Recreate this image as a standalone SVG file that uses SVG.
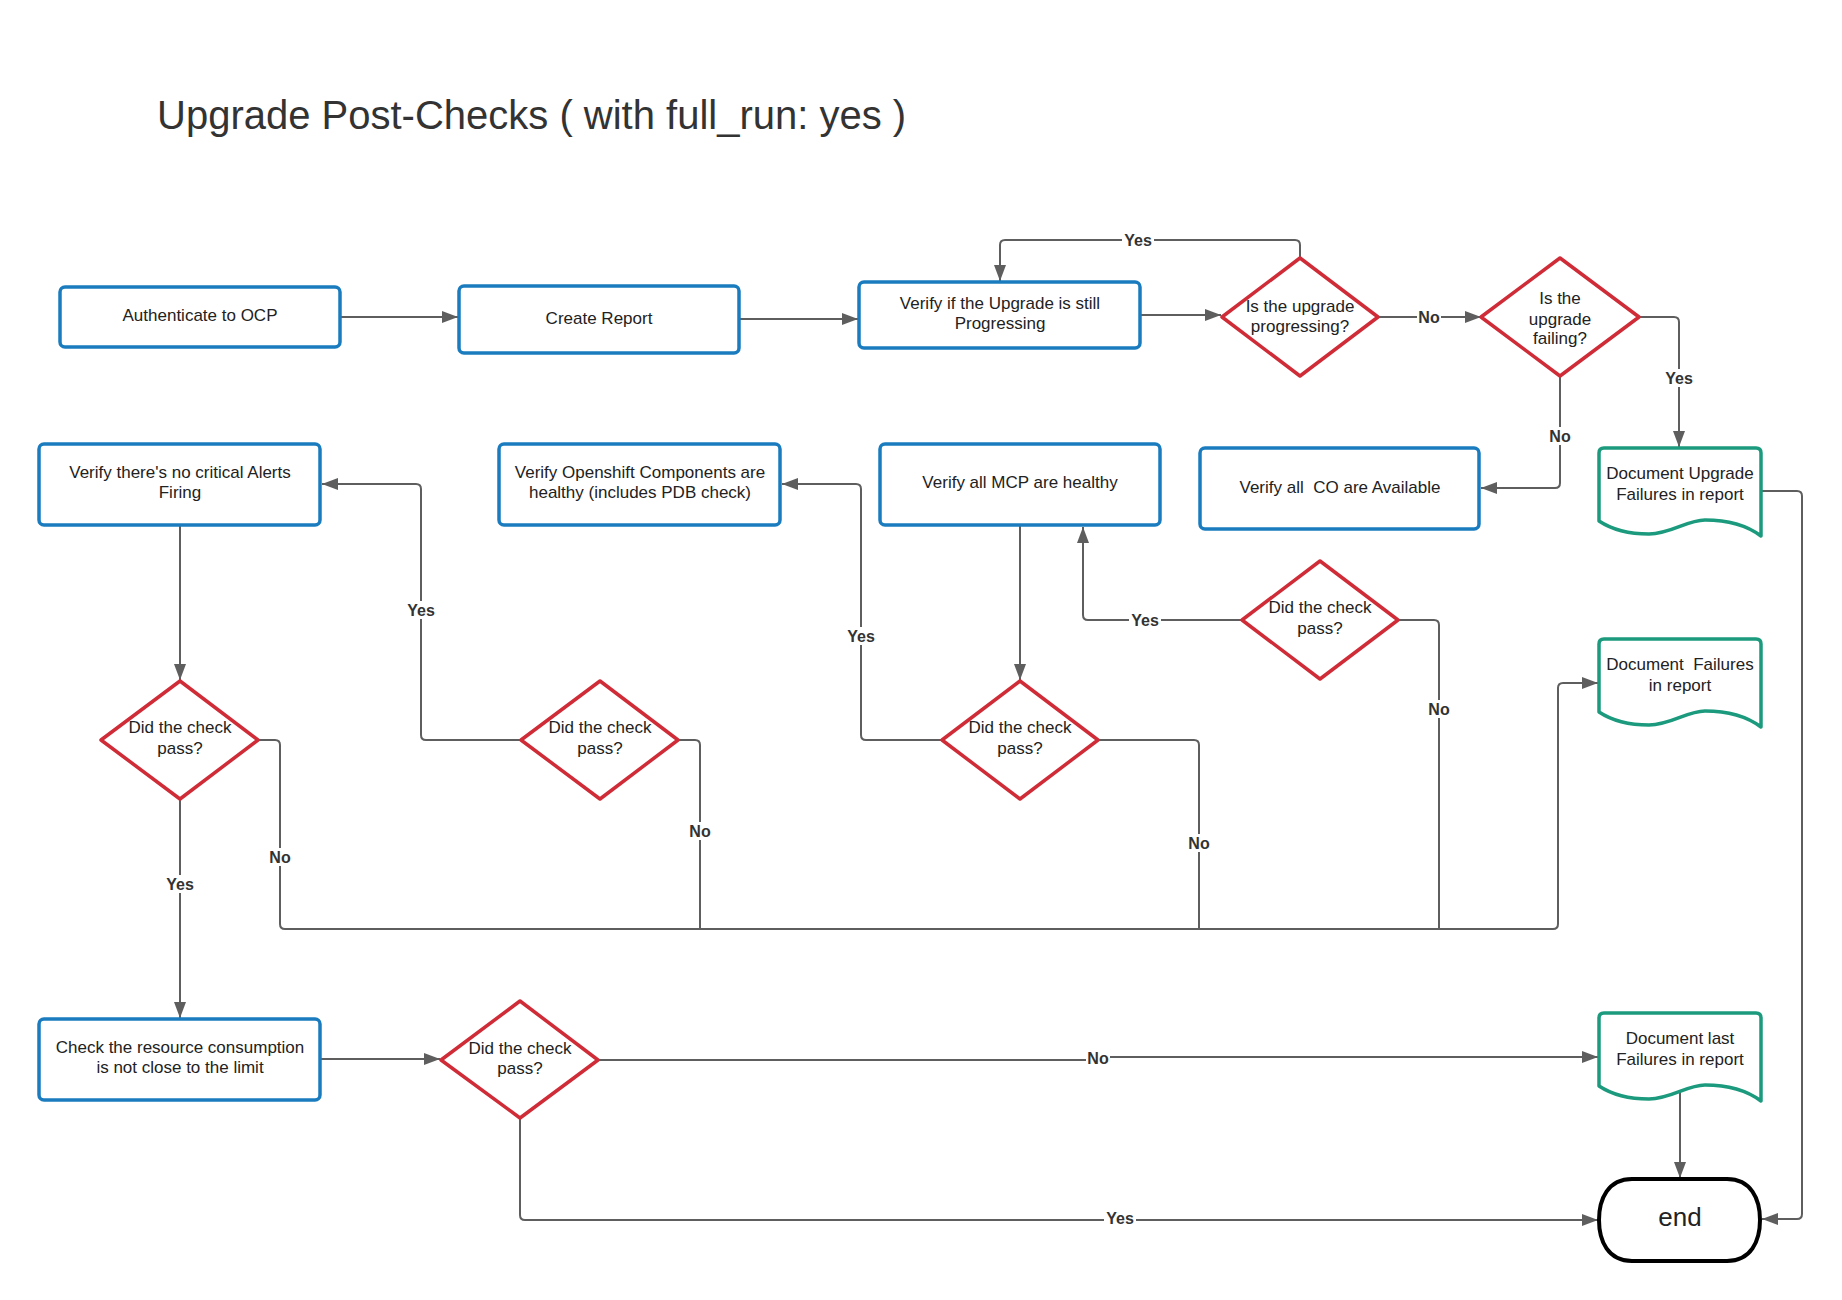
<svg xmlns="http://www.w3.org/2000/svg" width="1842" height="1300" viewBox="0 0 1842 1300">
<style>
.bg{fill:#fff}
.box{fill:#fff;stroke:#1a7cbf;stroke-width:3.5}
.dia{fill:#fff;stroke:#cf2c37;stroke-width:3.5;stroke-linejoin:round}
.doc{fill:#fff;stroke:#1b9a7d;stroke-width:3.5;stroke-linejoin:round}
.term{fill:#fff;stroke:#000;stroke-width:4}
.t{font-family:"Liberation Sans",Arial,sans-serif;font-size:17px;fill:#222;text-anchor:middle;white-space:pre}
.title{font-family:"Liberation Sans",Arial,sans-serif;font-size:40px;fill:#333}
.c{fill:none;stroke:#5e5e5e;stroke-width:2}
.lb{fill:#fff}
.lt{font-family:"Liberation Sans",Arial,sans-serif;font-size:16px;font-weight:bold;fill:#333;text-anchor:middle}
</style>
<defs>
<marker id="ah" markerUnits="userSpaceOnUse" markerWidth="16" markerHeight="12" refX="16" refY="6" orient="auto">
<path d="M0,0 L16,6 L0,12 Z" fill="#5e5e5e"/>
</marker>
<path id="docshape" class="doc" d="M0,5 Q0,0 5,0 H157 Q162,0 162,5 V88 C146,76 124,72 106,72 C88,72 72,86 50,86 C30,86 12,81 0,73 Z"/>
</defs>
<rect class="bg" x="0" y="0" width="1842" height="1300"/>
<text class="title" x="157" y="129">Upgrade Post-Checks ( with full_run: yes )</text>

<g id="connectors">
<path class="c" marker-end="url(#ah)" d="M340,317 H458"/>
<path class="c" marker-end="url(#ah)" d="M739,319 H858"/>
<path class="c" marker-end="url(#ah)" d="M1140,315 H1221"/>
<path class="c" marker-end="url(#ah)" d="M1378,317 H1481"/>
<path class="c" marker-end="url(#ah)" d="M1300,258 V245 Q1300,240 1295,240 H1005 Q1000,240 1000,245 V281"/>
<path class="c" marker-end="url(#ah)" d="M1639,317 H1674 Q1679,317 1679,322 V447"/>
<path class="c" marker-end="url(#ah)" d="M1560,376 V483 Q1560,488 1555,488 H1481"/>
<path class="c" marker-end="url(#ah)" d="M1761,491 H1797 Q1802,491 1802,496 V1214 Q1802,1219 1797,1219 H1762"/>
<path class="c" marker-end="url(#ah)" d="M1020,525 V680"/>
<path class="c" marker-end="url(#ah)" d="M1242,620 H1088 Q1083,620 1083,615 V527"/>
<path class="c" d="M1398,620 H1434 Q1439,620 1439,625 V929"/>
<path class="c" marker-end="url(#ah)" d="M942,740 H866 Q861,740 861,735 V489 Q861,484 856,484 H782"/>
<path class="c" d="M1098,740 H1194 Q1199,740 1199,745 V929"/>
<path class="c" marker-end="url(#ah)" d="M521,740 H426 Q421,740 421,735 V489 Q421,484 416,484 H322"/>
<path class="c" d="M678,740 H695 Q700,740 700,745 V929"/>
<path class="c" marker-end="url(#ah)" d="M258,740 H275 Q280,740 280,745 V924 Q280,929 285,929 H1553 Q1558,929 1558,924 V688 Q1558,683 1563,683 H1598"/>
<path class="c" marker-end="url(#ah)" d="M180,525 V680"/>
<path class="c" marker-end="url(#ah)" d="M180,799 V1018"/>
<path class="c" marker-end="url(#ah)" d="M320,1059 H440"/>
<path class="c" marker-end="url(#ah)" d="M598,1060 H1098 V1057 H1598"/>
<path class="c" marker-end="url(#ah)" d="M520,1118 V1215 Q520,1220 525,1220 H1598"/>
<path class="c" marker-end="url(#ah)" d="M1680,1092 V1178"/>
<g id="labels">
<rect class="lb" x="1122" y="231" width="32" height="18"/><text class="lt" x="1138" y="246">Yes</text>
<rect class="lb" x="1417" y="308" width="24" height="18"/><text class="lt" x="1429" y="323">No</text>
<rect class="lb" x="1663" y="369" width="32" height="18"/><text class="lt" x="1679" y="384">Yes</text>
<rect class="lb" x="1548" y="427" width="24" height="18"/><text class="lt" x="1560" y="442">No</text>
<rect class="lb" x="1129" y="611" width="32" height="18"/><text class="lt" x="1145" y="626">Yes</text>
<rect class="lb" x="1427" y="700" width="24" height="18"/><text class="lt" x="1439" y="715">No</text>
<rect class="lb" x="845" y="627" width="32" height="18"/><text class="lt" x="861" y="642">Yes</text>
<rect class="lb" x="1187" y="834" width="24" height="18"/><text class="lt" x="1199" y="849">No</text>
<rect class="lb" x="405" y="601" width="32" height="18"/><text class="lt" x="421" y="616">Yes</text>
<rect class="lb" x="688" y="822" width="24" height="18"/><text class="lt" x="700" y="837">No</text>
<rect class="lb" x="268" y="848" width="24" height="18"/><text class="lt" x="280" y="863">No</text>
<rect class="lb" x="164" y="875" width="32" height="18"/><text class="lt" x="180" y="890">Yes</text>
<rect class="lb" x="1086" y="1049" width="24" height="18"/><text class="lt" x="1098" y="1064">No</text>
<rect class="lb" x="1104" y="1209" width="32" height="18"/><text class="lt" x="1120" y="1224">Yes</text>
</g>
</g>

<g id="n-auth"><rect class="box" x="60" y="287" width="280" height="60" rx="5"/><text class="t" x="200" y="321">Authenticate to OCP</text></g>
<g id="n-report"><rect class="box" x="459" y="286" width="280" height="67" rx="5"/><text class="t" x="599" y="324">Create Report</text></g>
<g id="n-progress"><rect class="box" x="859" y="282" width="281" height="66" rx="5"/><text class="t" x="1000" y="309">Verify if the Upgrade is still</text><text class="t" x="1000" y="329">Progressing</text></g>
<g id="d-progressing"><path class="dia" d="M1300,258 L1378,317 L1300,376 L1222,317 Z"/><text class="t" x="1300" y="312">Is the upgrade</text><text class="t" x="1300" y="332">progressing?</text></g>
<g id="d-failing"><path class="dia" d="M1560,258 L1639,317 L1560,376 L1481,317 Z"/><text class="t" x="1560" y="304">Is the</text><text class="t" x="1560" y="325">upgrade</text><text class="t" x="1560" y="344">failing?</text></g>
<g id="n-co"><rect class="box" x="1200" y="448" width="279" height="81" rx="5"/><text class="t" x="1340" y="493">Verify all  CO are Available</text></g>
<g id="n-doc-upgrade"><use href="#docshape" transform="translate(1599,448)"/><text class="t" x="1680" y="479">Document Upgrade</text><text class="t" x="1680" y="500">Failures in report</text></g>
<g id="n-mcp"><rect class="box" x="880" y="444" width="280" height="81" rx="5"/><text class="t" x="1020" y="488">Verify all MCP are healthy</text></g>
<g id="n-openshift"><rect class="box" x="499" y="444" width="281" height="81" rx="5"/><text class="t" x="640" y="478">Verify Openshift Components are</text><text class="t" x="640" y="498">healthy (includes PDB check)</text></g>
<g id="n-alerts"><rect class="box" x="39" y="444" width="281" height="81" rx="5"/><text class="t" x="180" y="478">Verify there's no critical Alerts</text><text class="t" x="180" y="498">Firing</text></g>
<g id="d-alerts"><path class="dia" d="M180,681 L258,740 L180,799 L101,740 Z"/><text class="t" x="180" y="733">Did the check</text><text class="t" x="180" y="754">pass?</text></g>
<g id="d-openshift"><path class="dia" d="M600,681 L678,740 L600,799 L521,740 Z"/><text class="t" x="600" y="733">Did the check</text><text class="t" x="600" y="754">pass?</text></g>
<g id="d-mcp"><path class="dia" d="M1020,681 L1098,740 L1020,799 L942,740 Z"/><text class="t" x="1020" y="733">Did the check</text><text class="t" x="1020" y="754">pass?</text></g>
<g id="d-co"><path class="dia" d="M1320,561 L1398,620 L1320,679 L1242,620 Z"/><text class="t" x="1320" y="613">Did the check</text><text class="t" x="1320" y="634">pass?</text></g>
<g id="n-doc-failures"><use href="#docshape" transform="translate(1599,639)"/><text class="t" x="1680" y="670">Document  Failures</text><text class="t" x="1680" y="691">in report</text></g>
<g id="n-resource"><rect class="box" x="39" y="1019" width="281" height="81" rx="5"/><text class="t" x="180" y="1053">Check the resource consumption</text><text class="t" x="180" y="1073">is not close to the limit</text></g>
<g id="d-resource"><path class="dia" d="M520,1001 L598,1060 L520,1118 L441,1060 Z"/><text class="t" x="520" y="1054">Did the check</text><text class="t" x="520" y="1074">pass?</text></g>
<g id="n-doc-last"><use href="#docshape" transform="translate(1599,1013)"/><text class="t" x="1680" y="1044">Document last</text><text class="t" x="1680" y="1065">Failures in report</text></g>
<g id="n-end"><path class="term" d="M1632,1179 H1727 C1751,1179 1760,1199 1760,1220 C1760,1241 1751,1261 1727,1261 H1632 C1608,1261 1599,1241 1599,1220 C1599,1199 1608,1179 1632,1179 Z"/><text class="t" x="1680" y="1226" style="font-size:26px">end</text></g>
</svg>
